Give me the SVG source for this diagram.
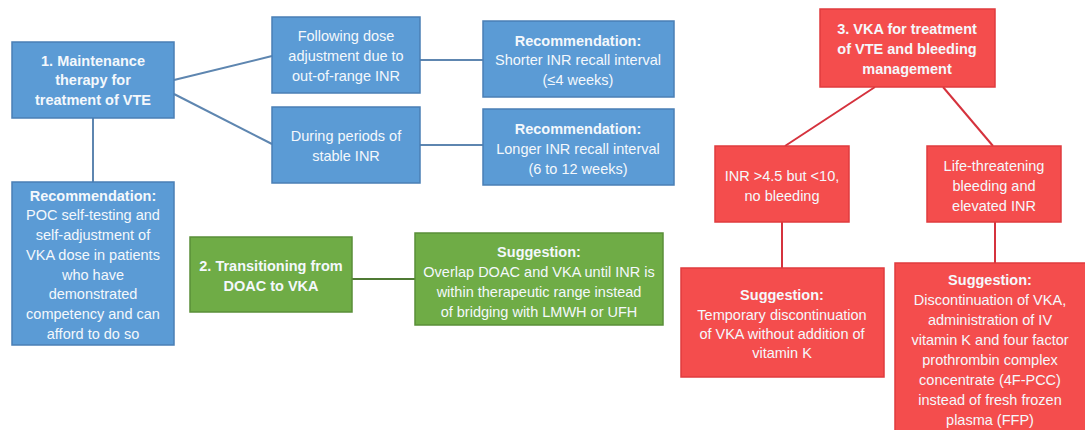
<svg xmlns="http://www.w3.org/2000/svg" width="1085" height="430" viewBox="0 0 1085 430">
<style>
.b{fill:#5B9BD5;stroke:#4A7FB5;stroke-width:1.5}
.g{fill:#6FAC46;stroke:#5A8F38;stroke-width:1.5}
.r{fill:#F44D4D;stroke:#E03B3E;stroke-width:1.5}
text{font-family:"Liberation Sans",Arial,sans-serif;font-size:14.5px;fill:#F4F8FC;text-anchor:middle}
.h{font-weight:bold}
.lb{stroke:#5E86B0;stroke-width:2;fill:none}
.lg{stroke:#4F7A34;stroke-width:2;fill:none}
.lr{stroke:#D5323D;stroke-width:2;fill:none}
</style>
<rect width="1085" height="430" fill="#FFFFFF"/>
<g id="connectors">
<line class="lb" x1="174" y1="80" x2="272" y2="56"/>
<line class="lb" x1="174" y1="94" x2="272" y2="144"/>
<line class="lb" x1="420" y1="60" x2="483" y2="60"/>
<line class="lb" x1="420" y1="145" x2="483" y2="145"/>
<line class="lb" x1="93" y1="118" x2="93" y2="182"/>
<line class="lg" x1="352" y1="279" x2="415" y2="279"/>
<line class="lr" x1="875" y1="87" x2="785" y2="146"/>
<line class="lr" x1="943" y1="87" x2="993" y2="146"/>
<line class="lr" x1="782" y1="222" x2="782" y2="268"/>
<line class="lr" x1="995" y1="222" x2="995" y2="263"/>
</g>
<g id="n1">
<rect class="b" x="12" y="42" width="162" height="76"/>
<text class="h" x="93" y="66">1. Maintenance</text>
<text class="h" x="93" y="85">therapy for</text>
<text class="h" x="93" y="105">treatment of VTE</text>
</g>
<g id="n1a">
<rect class="b" x="272" y="17" width="148" height="76"/>
<text x="346" y="41">Following dose</text>
<text x="346" y="61">adjustment due to</text>
<text x="346" y="81">out-of-range INR</text>
</g>
<g id="n1b">
<rect class="b" x="272" y="107" width="148" height="76"/>
<text x="346" y="141">During periods of</text>
<text x="346" y="161">stable INR</text>
</g>
<g id="n1a-rec">
<rect class="b" x="483" y="21" width="191" height="76"/>
<text class="h" x="578" y="46">Recommendation:</text>
<text x="578" y="65">Shorter INR recall interval</text>
<text x="578" y="85">(≤4 weeks)</text>
</g>
<g id="n1b-rec">
<rect class="b" x="483" y="109" width="191" height="76"/>
<text class="h" x="578" y="134">Recommendation:</text>
<text x="578" y="154">Longer INR recall interval</text>
<text x="578" y="174">(6 to 12 weeks)</text>
</g>
<g id="n1-rec">
<rect class="b" x="12" y="182" width="162" height="163"/>
<text class="h" x="93" y="201">Recommendation:</text>
<text x="93" y="220">POC self-testing and</text>
<text x="93" y="240">self-adjustment of</text>
<text x="93" y="260">VKA dose in patients</text>
<text x="93" y="280">who have</text>
<text x="93" y="299">demonstrated</text>
<text x="93" y="319">competency and can</text>
<text x="93" y="339">afford to do so</text>
</g>
<g id="n2">
<rect class="g" x="190" y="237" width="162" height="75"/>
<text class="h" x="271" y="271">2. Transitioning from</text>
<text class="h" x="271" y="291">DOAC to VKA</text>
</g>
<g id="n2-sug">
<rect class="g" x="415" y="233" width="248" height="92"/>
<text class="h" x="539" y="257">Suggestion:</text>
<text x="539" y="277">Overlap DOAC and VKA until INR is</text>
<text x="539" y="297">within therapeutic range instead</text>
<text x="539" y="317">of bridging with LMWH or UFH</text>
</g>
<g id="n3">
<rect class="r" x="820" y="9" width="175" height="78"/>
<text class="h" x="907" y="34">3. VKA for treatment</text>
<text class="h" x="907" y="54">of VTE and bleeding</text>
<text class="h" x="907" y="74">management</text>
</g>
<g id="n3a">
<rect class="r" x="715" y="146" width="134" height="76"/>
<text x="782" y="181">INR &gt;4.5 but &lt;10,</text>
<text x="782" y="201">no bleeding</text>
</g>
<g id="n3b">
<rect class="r" x="927" y="146" width="134" height="76"/>
<text x="994" y="171">Life-threatening</text>
<text x="994" y="191">bleeding and</text>
<text x="994" y="211">elevated INR</text>
</g>
<g id="n3a-sug">
<rect class="r" x="681" y="268" width="203" height="109"/>
<text class="h" x="782" y="300">Suggestion:</text>
<text x="782" y="320">Temporary discontinuation</text>
<text x="782" y="339">of VKA without addition of</text>
<text x="782" y="358">vitamin K</text>
</g>
<g id="n3b-sug">
<rect class="r" x="895" y="263" width="192" height="170"/>
<text class="h" x="990" y="285">Suggestion:</text>
<text x="990" y="305">Discontinuation of VKA,</text>
<text x="990" y="325">administration of IV</text>
<text x="990" y="345">vitamin K and four factor</text>
<text x="990" y="365">prothrombin complex</text>
<text x="990" y="385">concentrate (4F-PCC)</text>
<text x="990" y="405">instead of fresh frozen</text>
<text x="990" y="425">plasma (FFP)</text>
</g>
</svg>
